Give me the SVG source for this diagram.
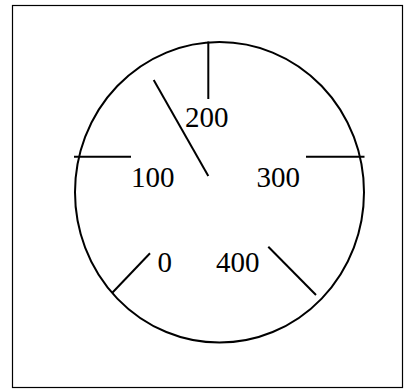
<svg xmlns="http://www.w3.org/2000/svg" width="404" height="390" viewBox="0 0 404 390">
<style>
.ln{stroke:#000;stroke-width:2;fill:none}
.t{font-family:"Liberation Serif","Times New Roman",serif;font-size:29px;fill:#000}
</style>
<rect x="0" y="0" width="404" height="390" fill="#fff"/>
<g id="frame"><rect x="12.5" y="5.5" width="390" height="382" fill="none" stroke="#000" stroke-width="1.2"/></g>
<g id="dial"><ellipse cx="219.5" cy="192.3" rx="144.5" ry="150.3" class="ln"/></g>
<g id="ticks">
<line class="ln" x1="208.3" y1="41.5" x2="208.3" y2="99"/>
<line class="ln" x1="74" y1="156.7" x2="131" y2="156.7"/>
<line class="ln" x1="306" y1="156.7" x2="364.5" y2="156.7"/>
<line class="ln" x1="112.3" y1="292.7" x2="150" y2="253.3"/>
<line class="ln" x1="268.3" y1="246.7" x2="316" y2="295"/>
</g>
<g id="needle"><line class="ln" x1="153.7" y1="80" x2="208.3" y2="176"/></g>
<g id="labels">
<text class="t" x="185" y="127">200</text>
<text class="t" x="131" y="187">100</text>
<text class="t" x="256.5" y="187">300</text>
<text class="t" x="157.5" y="272">0</text>
<text class="t" x="216" y="272">400</text>
</g>
</svg>
